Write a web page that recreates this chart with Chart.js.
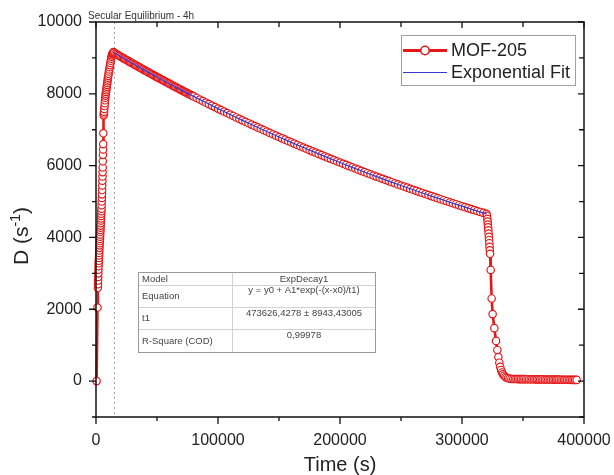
<!DOCTYPE html>
<html><head><meta charset="utf-8">
<script src="https://cdn.jsdelivr.net/npm/chart.js@4.4.1/dist/chart.umd.min.js"></script>
<style>html,body{margin:0;padding:0;background:#fff;}canvas{display:block;}</style>
</head><body>
<canvas id="c" width="614" height="475"></canvas>
<script>
// ---------- data ----------
const riseTime = [500,1200,1500,1600,1700,1800,1900,2000,2100,2200,2300,2400,2500,2600,2700,2800,2900,3000,3100,3200,3300,3400,3500,3600,3700,3800,3900,4000,4100,4200,4300,4400,4500,4600,4700,4800,4900,5000,5100,5200,5300,5400,5500,5600,5700,5800,5900,6000,6300,6450,6600,6800,7000,7200,7400,7600,7800,8000,8200,8400,8600,8800,9000,9200,9400,9600,9800,10000,10300,10600,10900,11200,11500,11800,12100,12400,12700,13000,13300,13600,13900,14200,14400];
const riseD = [0,2050,2600,2700,2800,2900,3000,3100,3200,3280,3350,3430,3500,3570,3640,3710,3780,3840,3900,3960,4020,4080,4150,4210,4270,4330,4400,4470,4530,4600,4660,4730,4800,4900,5000,5100,5200,5320,5450,5580,5700,5820,5950,6120,6300,6450,6600,6900,7400,7450,7500,7580,7660,7740,7820,7890,7950,8000,8050,8100,8150,8200,8250,8300,8350,8400,8450,8500,8560,8620,8680,8740,8800,8860,8920,8980,9030,9070,9100,9120,9140,9155,9165];

const decayTime = [15000,16000,17000,18000,19000,20000,21000,22000,23000,24000,25000,26000,27000,28000,29000,30000,31000,32000,33000,34000,35000,36000,37000,38000,39000,40000,41000,42000,43000,44000,45000,46000,47000,48000,49000,50000,51000,52000,53000,54000,55000,56000,57000,58000,59000,60000,61000,62000,63000,64000,65000,66000,67000,68000,69000,70000,71000,72000,73000,74000,75000,76000,77000,78000,79000,80000,
82500,85000,87500,90000,92500,95000,97500,100000,102500,105000,107500,110000,112500,115000,117500,120000,122500,125000,127500,130000,132500,135000,137500,140000,142500,145000,147500,150000,152500,155000,157500,160000,162500,165000,167500,170000,172500,175000,177500,180000,182500,185000,187500,190000,192500,195000,197500,200000,202500,205000,207500,210000,212500,215000,217500,220000,222500,225000,227500,230000,232500,235000,237500,240000,242500,245000,247500,250000,252500,255000,257500,260000,262500,265000,267500,270000,272500,275000,277500,280000,282500,285000,287500,290000,292500,295000,297500,300000,302500,305000,307500,310000,312500,315000,317500,320000];
const decayD = [9138,9118,9099,9079,9059,9039,
9020,9000,8981,8961,8942,8922,8903,8883,8864,8844,
8825,8806,8787,8768,8749,8729,8710,8691,8672,8653,
8634,8616,8597,8578,8560,8541,8522,8503,8485,8466,
8448,8429,8411,8393,8375,8356,8338,8320,8301,8283,
8265,8247,8229,8211,8193,8175,8157,8139,8121,8103,
8086,8068,8051,8033,8016,7998,7981,7963,7946,7928,
7885,7842,7799,7756,7714,7672,7630,7588,7547,7506,7464,7423,
7383,7342,7302,7261,7222,7182,7143,7103,7065,7026,6988,6949,
6911,6873,6835,6797,6760,6723,6686,6649,6613,6576,6540,6504,
6469,6433,6398,6362,6327,6293,6258,6223,6189,6155,6120,6086,
6053,6020,5986,5953,5920,5888,5855,5822,5790,5758,5726,5694,
5663,5632,5600,5569,5539,5508,5478,5447,5417,5387,5357,5327,
5298,5268,5239,5209,5180,5151,5123,5094,5066,5038,5009,4981,
4953,4926,4898,4871,4844,4817,4790,4763,4737,4710,4684,4657];

const dropTime = [320500,320800,321000,321200,321400,321600,321800,322000,322200,322400,322600,322800,323000,323500,324300,325100,326500,327900,329000,329800,330600,331300,332000,332800,333600,334500,335500,336500,337700,339000,340500];
const dropD = [4600,4520,4440,4360,4280,4200,4110,4020,3930,3840,3740,3640,3544,3096,2302,1865,1474,1119,867,671,512,400,310,240,190,150,115,95,80,68,60];

const tailTime = [342000,343300,344600,345900,347200,348500,349800,351100,352400,353700,355000,356300,357600,358900,360200,361500,362800,364100,365400,366700,368000,369300,370600,371900,373200,374500,375800,377100,378400,379700,381000,382300,383600,384900,386200,387500,388800,390100,391400,392700,394000];
const tailD = [58,57,57,56,55,55,54,54,53,52,52,51,50,50,49,48,48,47,47,46,45,45,44,43,43,42,42,41,40,40,39,38,38,37,37,36,35,35,34,33,33];

const fitTime = [14400,20000,30000,40000,50000,60000,70000,80000,90000,100000,110000,120000,130000,140000,150000,160000,170000,180000,190000,200000,210000,220000,230000,240000,250000,260000,270000,280000,290000,300000,310000,320000];
const fitD = [9150,9039,8844,8653,8466,8283,8103,7928,7756,7588,7423,7261,7103,6949,6797,6649,6504,6362,6223,6086,5953,5822,5694,5569,5447,5327,5209,5094,4981,4871,4763,4657];

const xTickValues = [0,100000,200000,300000,400000];
const xMinorValues = [50000,150000,250000,350000];
const yTickValues = [0,2000,4000,6000,8000,10000];
const yMinorValues = [-1000,1000,3000,5000,7000,9000];
const equilibriumTime = 14400;
const equilibriumLabel = "Secular Equilibrium - 4h";
const seriesNames = ["MOF-205","Exponential Fit"];
const tableRows = [["Model","ExpDecay1"],["Equation","y = y0 + A1*exp(-(x-x0)/t1)"],["t1","473626,4278 ± 8943,43005"],["R-Square (COD)","0,99978"]];

// ---------- build ----------
function pairs(t, v){ const n=Math.min(t.length,v.length); const out=[]; for(let i=0;i<n;i++) out.push({x:t[i],y:v[i]}); return out; }
const mofData = [].concat(pairs(riseTime,riseD),pairs(decayTime,decayD),pairs(dropTime,dropD),pairs(tailTime,tailD));
const fitData = pairs(fitTime,fitD);

const RED = 'rgb(228,24,24)';
const BLUE = 'rgb(55,55,205)';
const FONT = '"Liberation Sans", Arial, sans-serif';
Chart.defaults.font.family = FONT;

const decor = {
  id:'decor',
  beforeDatasetsDraw(chart){
    const {ctx, chartArea:a, scales:{x}} = chart;
    ctx.save();
    const ex = Math.round(x.getPixelForValue(equilibriumTime))+0.5;
    ctx.strokeStyle = '#9ca0a8'; ctx.lineWidth = 1; ctx.setLineDash([2,3]);
    ctx.beginPath(); ctx.moveTo(ex,a.top); ctx.lineTo(ex,a.bottom); ctx.stroke();
    ctx.restore();
  },
  afterDatasetsDraw(chart){
    const {ctx, chartArea:a, scales:{x,y}} = chart;
    ctx.save();
    ctx.strokeStyle = '#111'; ctx.lineWidth = 1.5;
    ctx.strokeRect(a.left, a.top, a.right-a.left, a.bottom-a.top);
    ctx.lineWidth = 1.3;
    ctx.beginPath();
    xTickValues.forEach(v=>{ const px=x.getPixelForValue(v); ctx.moveTo(px,a.bottom); ctx.lineTo(px,a.bottom+7); ctx.moveTo(px,a.top); ctx.lineTo(px,a.top+6); });
    xMinorValues.forEach(v=>{ const px=x.getPixelForValue(v); ctx.moveTo(px,a.bottom); ctx.lineTo(px,a.bottom+4); ctx.moveTo(px,a.top); ctx.lineTo(px,a.top+5); });
    yTickValues.forEach(v=>{ const py=y.getPixelForValue(v); ctx.moveTo(a.left,py); ctx.lineTo(a.left-7,py); ctx.moveTo(a.right,py); ctx.lineTo(a.right-6,py); });
    yMinorValues.forEach(v=>{ const py=y.getPixelForValue(v); ctx.moveTo(a.left,py); ctx.lineTo(a.left-4,py); ctx.moveTo(a.right,py); ctx.lineTo(a.right-5,py); });
    ctx.stroke();
    ctx.restore();
  },
  afterDraw(chart){
    const {ctx} = chart;
    ctx.save();
    // annotation above plot
    ctx.fillStyle = '#333'; ctx.font = '10px '+FONT; ctx.textBaseline='middle'; ctx.textAlign='left';
    ctx.fillText(equilibriumLabel, 88, 16);
    // axis titles
    ctx.fillStyle = '#222'; ctx.font = '20px '+FONT; ctx.textAlign='center';
    ctx.fillText('Time (s)', 340, 465);
    ctx.save();
    ctx.translate(22, 236); ctx.rotate(-Math.PI/2);
    const p1 = 'D (s', p3 = ')';
    ctx.font = '21px '+FONT; const w1 = ctx.measureText(p1).width, w3 = ctx.measureText(p3).width;
    ctx.font = '14px '+FONT; const w2 = ctx.measureText('-1').width;
    let sx = -(w1+w2+w3)/2;
    ctx.textAlign='left';
    ctx.font = '21px '+FONT; ctx.fillText(p1, sx, 0);
    ctx.font = '14px '+FONT; ctx.fillText('-1', sx+w1, -6);
    ctx.font = '21px '+FONT; ctx.fillText(p3, sx+w1+w2, 0);
    ctx.restore();
    // legend
    ctx.strokeStyle = '#a0a0a0'; ctx.lineWidth = 1;
    ctx.strokeRect(401.5, 35.5, 174, 50);
    ctx.strokeStyle = RED; ctx.lineWidth = 3;
    ctx.beginPath(); ctx.moveTo(403,50.5); ctx.lineTo(447,50.5); ctx.stroke();
    ctx.fillStyle = '#fff'; ctx.lineWidth = 1.5;
    ctx.beginPath(); ctx.arc(425,50.5,4.2,0,Math.PI*2); ctx.fill(); ctx.stroke();
    ctx.strokeStyle = BLUE; ctx.lineWidth = 1;
    ctx.beginPath(); ctx.moveTo(403,72.5); ctx.lineTo(447,72.5); ctx.stroke();
    ctx.fillStyle = '#222'; ctx.font = '18px '+FONT; ctx.textAlign='left'; ctx.textBaseline='middle';
    ctx.fillText(seriesNames[0], 451, 51);
    ctx.fillText(seriesNames[1], 451, 73);
    // fit table
    const L=138.5, R=375.5, T=272.5, B=352.5, C=232.5, rows=[272.5,285,307,329,352.5];
    ctx.fillStyle='#fff'; ctx.fillRect(L,T,R-L,B-T);
    ctx.strokeStyle='#d2d2d2'; ctx.lineWidth=1;
    ctx.beginPath();
    ctx.moveTo(C,T); ctx.lineTo(C,B);
    for(let i=1;i<rows.length-1;i++){ ctx.moveTo(L,Math.round(rows[i])+0.5); ctx.lineTo(R,Math.round(rows[i])+0.5); }
    ctx.stroke();
    ctx.strokeStyle='#9a9a9a'; ctx.strokeRect(L,T,R-L,B-T);
    ctx.fillStyle='#444'; ctx.font='9.5px '+FONT; ctx.textBaseline='middle';
    const leftY=[279,296,318,341], rightY=[279,290,313,335];
    tableRows.forEach((r,i)=>{
      ctx.textAlign='left'; ctx.fillText(r[0], 142, leftY[i]);
      ctx.textAlign='center'; ctx.fillText(r[1], (C+R)/2, rightY[i]);
    });
    ctx.restore();
  }
};

new Chart(document.getElementById('c'), {
  type:'scatter',
  data:{ datasets:[
    { label:seriesNames[1], data:fitData, showLine:true, borderColor:BLUE, borderWidth:1.2, pointRadius:0, order:0, clip:false },
    { label:seriesNames[0], data:mofData, showLine:true, borderColor:RED, borderWidth:2.6, pointRadius:3.7, pointBorderWidth:1.2,
      pointBorderColor:RED, pointBackgroundColor:'#fff', order:1, clip:false }
  ]},
  options:{
    responsive:false, animation:false, devicePixelRatio:1,
    layout:{ padding:{ top:22, right:30, left:0, bottom:0 } },
    plugins:{ legend:{display:false}, tooltip:{enabled:false} },
    scales:{
      x:{ type:'linear', min:0, max:400000,
        afterBuildTicks:s=>{ s.ticks = xTickValues.map(v=>({value:v})); },
        afterFit:s=>{ s.height = 58; s.paddingLeft = 0; s.paddingRight = 0; },
        grid:{display:false, drawTicks:false}, border:{display:false},
        ticks:{ color:'#222', font:{size:16, family:FONT}, padding:14, maxRotation:0, autoSkip:false, callback:v=>String(v) } },
      y:{ type:'linear', min:-1000, max:10000,
        afterBuildTicks:s=>{ s.ticks = yTickValues.map(v=>({value:v})); },
        afterFit:s=>{ s.width = 96; s.paddingTop = 0; s.paddingBottom = 0; },
        grid:{display:false, drawTicks:false}, border:{display:false},
        ticks:{ color:'#222', font:{size:16, family:FONT}, padding:14, autoSkip:false, callback:v=>String(v) } }
    }
  },
  plugins:[decor]
});
</script>
</body></html>
